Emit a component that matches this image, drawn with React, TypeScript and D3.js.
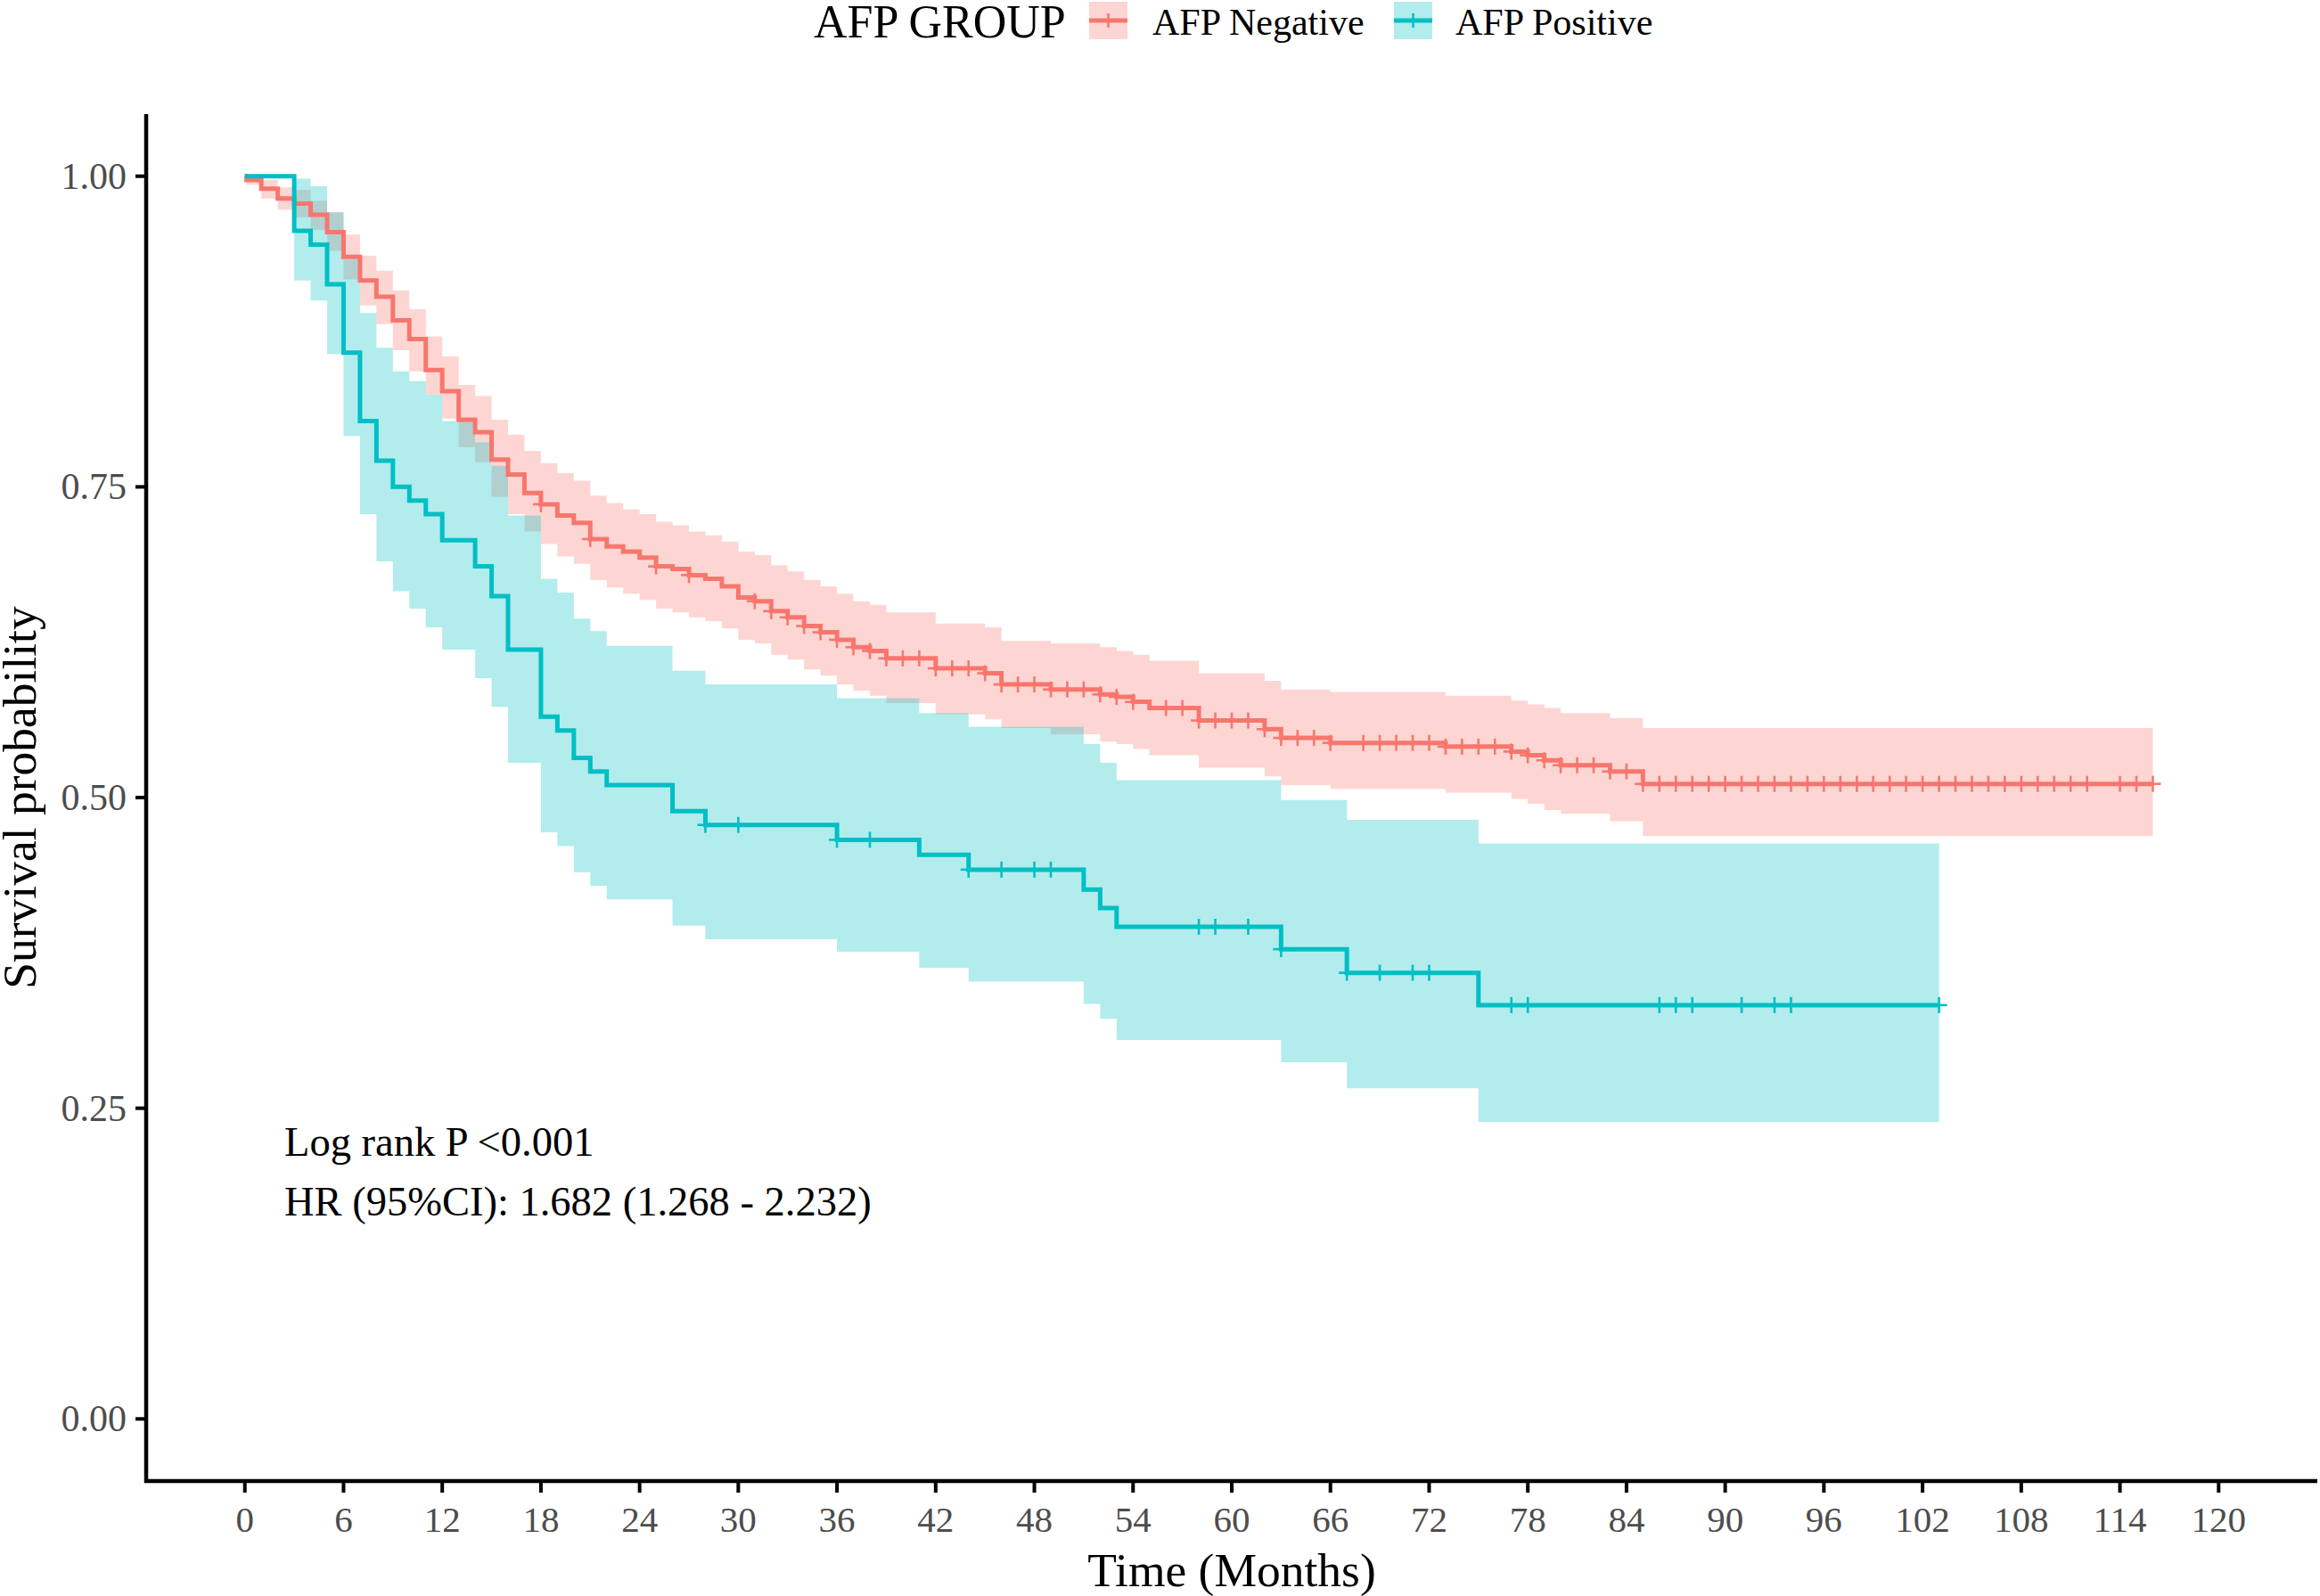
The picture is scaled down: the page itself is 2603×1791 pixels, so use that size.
import React from 'react';
import * as d3 from 'd3';

// ---------- data ----------
const xTicks = [0, 6, 12, 18, 24, 30, 36, 42, 48, 54, 60, 66, 72, 78, 84, 90, 96, 102, 108, 114, 120];
const yTicks = [0, 0.25, 0.5, 0.75, 1.0];
const yTickLabels = ['0.00', '0.25', '0.50', '0.75', '1.00'];

// AFP Negative
const negTime = [0, 0.1, 1, 2, 3, 4, 5, 6, 7, 8, 9, 10, 11, 12, 13, 14, 15, 16, 17, 18, 19, 20, 21, 22, 23, 24, 25, 26, 27, 28, 29, 30, 31, 32, 33, 34, 35, 36, 37, 38, 39, 42, 45, 46, 49, 52, 53, 54, 55, 58, 62, 63, 66, 73, 77, 78, 79, 80, 83, 85];
const negSurv = [1.0, 0.997, 0.990, 0.982, 0.978, 0.969, 0.955, 0.935, 0.916, 0.903, 0.884, 0.869, 0.844, 0.827, 0.804, 0.794, 0.772, 0.760, 0.745, 0.736, 0.727, 0.721, 0.708, 0.702, 0.698, 0.693, 0.686, 0.684, 0.679, 0.676, 0.670, 0.661, 0.658, 0.650, 0.645, 0.638, 0.633, 0.627, 0.621, 0.618, 0.612, 0.604, 0.600, 0.591, 0.587, 0.583, 0.581, 0.577, 0.572, 0.562, 0.555, 0.548, 0.544, 0.541, 0.537, 0.534, 0.530, 0.526, 0.521, 0.511];
const negUpper = [1.0, 1.0, 0.997, 0.991, 0.989, 0.980, 0.971, 0.953, 0.936, 0.924, 0.908, 0.893, 0.871, 0.855, 0.832, 0.823, 0.804, 0.792, 0.779, 0.769, 0.761, 0.755, 0.743, 0.737, 0.732, 0.728, 0.722, 0.719, 0.714, 0.711, 0.706, 0.698, 0.695, 0.687, 0.682, 0.675, 0.670, 0.664, 0.658, 0.655, 0.649, 0.640, 0.637, 0.626, 0.624, 0.621, 0.618, 0.615, 0.610, 0.600, 0.594, 0.587, 0.585, 0.582, 0.578, 0.575, 0.572, 0.568, 0.564, 0.556];
const negLower = [1.0, 0.993, 0.982, 0.973, 0.967, 0.957, 0.940, 0.917, 0.896, 0.881, 0.860, 0.843, 0.824, 0.805, 0.782, 0.770, 0.742, 0.728, 0.714, 0.704, 0.694, 0.688, 0.675, 0.669, 0.664, 0.659, 0.652, 0.649, 0.645, 0.642, 0.636, 0.627, 0.624, 0.615, 0.611, 0.603, 0.598, 0.591, 0.586, 0.582, 0.576, 0.567, 0.563, 0.556, 0.551, 0.545, 0.543, 0.539, 0.534, 0.524, 0.517, 0.510, 0.507, 0.504, 0.499, 0.495, 0.490, 0.487, 0.481, 0.469];
const negEnd = 116;
const negCensor = [18, 21, 25, 27, 31, 32, 33, 34, 35, 36, 37, 38, 39, 40, 41, 42, 43, 44, 45, 46, 47, 48, 49, 50, 51, 52, 53, 54, 56, 57, 58, 59, 60, 61, 62, 63, 64, 65, 66, 68, 69, 70, 71, 72, 73, 74, 75, 76, 77, 78, 79, 80, 81, 82, 83, 84, 85, 86, 87, 88, 89, 90, 91, 92, 93, 94, 95, 96, 97, 98, 99, 100, 101, 102, 103, 104, 105, 106, 107, 108, 109, 110, 111, 112, 114, 115, 116];

// AFP Positive
const posTime = [0, 3, 4, 5, 6, 7, 8, 9, 10, 11, 12, 14, 15, 16, 18, 19, 20, 21, 22, 26, 28, 36, 41, 44, 51, 52, 53, 63, 67, 75];
const posSurv = [1.0, 0.956, 0.945, 0.913, 0.858, 0.803, 0.771, 0.750, 0.739, 0.728, 0.707, 0.686, 0.662, 0.619, 0.565, 0.554, 0.532, 0.521, 0.510, 0.489, 0.478, 0.466, 0.454, 0.442, 0.426, 0.411, 0.396, 0.378, 0.359, 0.333];
const posUpper = [1.0, 0.998, 0.992, 0.971, 0.933, 0.890, 0.862, 0.843, 0.835, 0.824, 0.803, 0.786, 0.767, 0.727, 0.676, 0.665, 0.644, 0.634, 0.622, 0.602, 0.591, 0.580, 0.568, 0.557, 0.543, 0.528, 0.514, 0.498, 0.482, 0.463];
const posLower = [1.0, 0.916, 0.900, 0.857, 0.791, 0.728, 0.690, 0.666, 0.652, 0.637, 0.619, 0.596, 0.573, 0.528, 0.472, 0.461, 0.440, 0.429, 0.418, 0.397, 0.386, 0.376, 0.363, 0.352, 0.334, 0.322, 0.305, 0.287, 0.266, 0.239];
const posEnd = 103;
const posCensor = [28, 30, 36, 38, 44, 46, 48, 49, 58, 59, 61, 63, 67, 69, 71, 72, 77, 78, 86, 87, 88, 91, 93, 94, 103];

const groups = ['AFP Negative', 'AFP Positive'];
const colors = ['#F8766D', '#00BFC4'];
const annotations = ['Log rank P <0.001', 'HR (95%CI): 1.682 (1.268 - 2.232)'];

type Pt = { t: number; s: number; hi: number; lo: number };

function buildSeries(time: number[], surv: number[], up: number[], lo: number[], end: number): Pt[] {
  const pts: Pt[] = time.map((t, i) => ({ t, s: surv[i], hi: up[i], lo: lo[i] }));
  const last = pts[pts.length - 1];
  pts.push({ ...last, t: end });
  return pts;
}

function valueAt(time: number[], surv: number[], t: number): number {
  let v = surv[0];
  for (let i = 0; i < time.length; i++) if (time[i] <= t) v = surv[i];
  return v;
}

const FONT = '"Liberation Serif", "Times New Roman", serif';

export default function App() {
  const W = 2603;
  const H = 1791;
  const left = 164, right = 2600, top = 128, bottom = 1662;
  const x = d3.scaleLinear().domain([-6, 126]).range([left, right]);
  const y = d3.scaleLinear().domain([-0.05, 1.05]).range([bottom, top]);

  const series = [
    { pts: buildSeries(negTime, negSurv, negUpper, negLower, negEnd), censor: negCensor.map(t => ({ t, s: valueAt(negTime, negSurv, t) })) },
    { pts: buildSeries(posTime, posSurv, posUpper, posLower, posEnd), censor: posCensor.map(t => ({ t, s: valueAt(posTime, posSurv, t) })) },
  ];

  const area = d3.area<Pt>().x(d => x(d.t)).y0(d => y(d.lo)).y1(d => y(d.hi)).curve(d3.curveStepAfter);
  const line = d3.line<Pt>().x(d => x(d.t)).y(d => y(d.s)).curve(d3.curveStepAfter);

  const cs = 9; // censor mark half size
  const legendKeys = [1222, 1564];
  const legendText = [1293, 1633];

  return (
    <svg width={W} height={H} style={{ position: 'absolute', left: 0, top: 0, background: '#fff' }} fontFamily={FONT}>
      <rect x={0} y={0} width={W} height={H} fill="#fff" />
      {/* bands */}
      {series.map((sr, i) => (
        <path key={'band' + i} d={area(sr.pts) || ''} fill={colors[i]} fillOpacity={0.3} stroke="none" />
      ))}
      {/* lines */}
      {series.map((sr, i) => (
        <path key={'line' + i} d={line(sr.pts) || ''} fill="none" stroke={colors[i]} strokeWidth={5} />
      ))}
      {/* censor marks */}
      {series.map((sr, i) => (
        <g key={'cens' + i} stroke={colors[i]} strokeWidth={2.6}>
          {sr.censor.map((c, j) => (
            <g key={j}>
              <line x1={x(c.t) - cs} x2={x(c.t) + cs} y1={y(c.s)} y2={y(c.s)} />
              <line x1={x(c.t)} x2={x(c.t)} y1={y(c.s) - cs} y2={y(c.s) + cs} />
            </g>
          ))}
        </g>
      ))}

      {/* axes */}
      <line x1={left} x2={left} y1={top} y2={bottom + 2} stroke="#000" strokeWidth={4.5} />
      <line x1={left - 2} x2={right} y1={bottom} y2={bottom} stroke="#000" strokeWidth={4.5} />
      {yTicks.map((v, i) => (
        <g key={'yt' + i}>
          <line x1={left - 12} x2={left} y1={y(v)} y2={y(v)} stroke="#000" strokeWidth={4} />
          <text x={left - 22} y={y(v) + 14} textAnchor="end" fontSize={42} fill="#4D4D4D">{yTickLabels[i]}</text>
        </g>
      ))}
      {xTicks.map((v, i) => (
        <g key={'xt' + i}>
          <line x1={x(v)} x2={x(v)} y1={bottom} y2={bottom + 13} stroke="#000" strokeWidth={4} />
          <text x={x(v)} y={1719} textAnchor="middle" fontSize={41} fill="#4D4D4D">{String(v)}</text>
        </g>
      ))}

      {/* axis titles */}
      <text x={(left + right) / 2} y={1780} textAnchor="middle" fontSize={53.5} fill="#000">Time (Months)</text>
      <text transform={`translate(40, ${(top + bottom) / 2}) rotate(-90)`} textAnchor="middle" fontSize={53.5} fill="#000">Survival probability</text>

      {/* annotations */}
      {annotations.map((a, i) => (
        <text key={'ann' + i} x={319} y={1297 + i * 67} fontSize={46.5} fill="#000">{a}</text>
      ))}

      {/* legend */}
      <text x={913} y={42} fontSize={52} fill="#000">AFP GROUP</text>
      {groups.map((g, i) => (
        <g key={'leg' + i}>
          <rect x={legendKeys[i]} y={2} width={43} height={42} fill={colors[i]} fillOpacity={0.3} />
          <line x1={legendKeys[i]} x2={legendKeys[i] + 43} y1={23} y2={23} stroke={colors[i]} strokeWidth={5} />
          <line x1={legendKeys[i] + 21.5} x2={legendKeys[i] + 21.5} y1={15} y2={31} stroke={colors[i]} strokeWidth={2.6} />
          <text x={legendText[i]} y={39} fontSize={42} fill="#000">{g}</text>
        </g>
      ))}
    </svg>
  );
}
